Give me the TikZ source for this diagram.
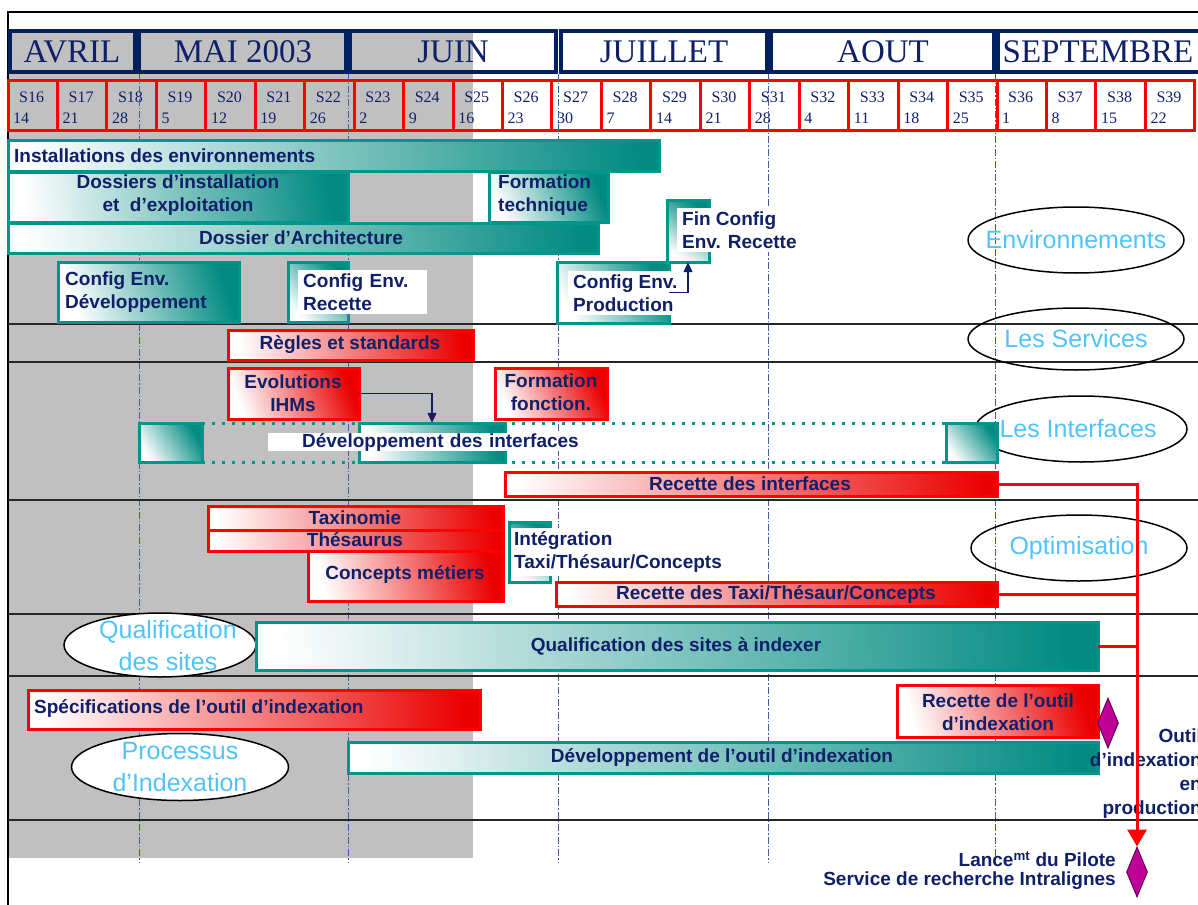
\documentclass[tikz,border=0pt]{standalone}
\usepackage{fontspec}
\setmainfont{Liberation Serif}
\setsansfont{Liberation Sans}
\usetikzlibrary{arrows.meta,shapes.geometric,fit}

\definecolor{navyt}{RGB}{16,32,104}
\definecolor{navyb}{RGB}{0,32,96}
\definecolor{tealc}{RGB}{0,150,140}
\definecolor{grayc}{RGB}{192,192,192}
\definecolor{skyt}{RGB}{80,195,250}
\definecolor{guidec}{RGB}{70,90,160}
\definecolor{magf}{RGB}{190,0,150}
\definecolor{magb}{RGB}{100,0,90}

% bar of the planning: name, colour, x1, y1, x2, y2
\newcommand\gbar[6]{%
  \pgfmathsetmacro\gang{-atan((#5-#3)/(#6-#4))}%
  \path[draw=#2, line width=3pt, top color=#2!92!black, bottom color=white, shading angle=\gang] (#3,#4) rectangle (#5,#6);
  \node[fit={(#3,#4) (#5,#6)}, inner sep=0pt] (#1) {};}

\begin{document}
\begin{tikzpicture}[x=1pt, y=-1pt,
  lbl/.style={font=\sffamily\bfseries\fontsize{19}{23.5}\selectfont, text=navyt, inner sep=0pt, align=center},
  wlbl/.style={lbl, fill=white, inner xsep=5pt, inner ysep=3pt, align=left},
  theme/.style={ellipse, draw=black, line width=1.5pt, inner sep=0pt},
  themetxt/.style={text=skyt, align=center, inner sep=0pt, font=\sffamily\fontsize{25}{32}\selectfont},
  mfont/.style={font=\rmfamily\fontsize{33}{33}\selectfont, text=navyt},
  wfont/.style={font=\rmfamily\fontsize{16}{16}\selectfont, text=navyt, inner sep=0pt},
  month/.style={draw=navyb, line width=4pt},
  week/.style={draw=red, line width=3pt},
  guide/.style={draw=guidec, line width=0.8pt, dash pattern=on 7pt off 2pt on 1.5pt off 2pt},
  sep/.style={line width=2pt, black!85},
  jalon/.style={diamond, draw=magb, fill=magf, line width=1pt, minimum width=21pt, minimum height=50pt, inner sep=0pt}]
\useasboundingbox (0,0) rectangle (1198,904);
\fill[grayc] (8,30) rectangle (473,858);
\draw[line width=1.2pt] (1215,12) -- (8,12) -- (8,910);

% months and weeks
\foreach \xa/\xb/\xm/\m [count=\i] in {10/135/72/AVRIL, 139/346/243/MAI 2003, 350/556/453/JUIN, 561/767/664/JUILLET, 771/994/883/AOUT, 998/1215/1098/SEPTEMBRE}{
  \draw[month] (\xa,31) rectangle (\xb,72);
  \node[mfont] (month\i) at (\xm,52) {\m};
}
\foreach \s/\d [count=\i from 0] in {16/14,17/21,18/28,19/5,20/12,21/19,22/26,23/2,24/9,25/16,26/23,27/30,28/7,29/14,30/21,31/28,32/4,33/11,34/18,35/25,36/1,37/8,38/15,39/22}{
  \pgfmathsetmacro\xl{8+49.45*\i}
  \draw[week] (\xl,81) rectangle ++(49.45,50);
  \node[wfont, anchor=west] (s\s) at (\xl+11,97) {S\s};
  \node[wfont, anchor=west] (d\s) at (\xl+5,118) {\d};
}
\foreach \x in {139,348,558,768,995} \draw[guide] (\x,74) -- (\x,862);
\foreach \y in {324,362,500,614,676,820} \draw[sep] (8,\y) -- (1198,\y);

% themes
\node[theme, minimum width=216pt, minimum height=66pt] (env) at (1076,240) {};
\node[theme, minimum width=216pt, minimum height=62pt] (serv) at (1076,339) {};
\node[theme, minimum width=212pt, minimum height=66pt] (inter) at (1081,429) {};
\node[theme, minimum width=216pt, minimum height=66pt] (optim) at (1079,548) {};
\node[theme, fill=white, minimum width=192pt, minimum height=64pt] (qsites) at (160,645) {};
\node[theme, fill=white, minimum width=217pt, minimum height=67pt] (proc) at (180,767) {};

% Environnements
\gbar{inst}{tealc}{8}{141}{659}{172}
\gbar{dossinst}{tealc}{8}{173}{348}{222}
\gbar{formtech}{tealc}{489}{173}{608}{222}
\gbar{dossarch}{tealc}{8}{223}{598}{253}
\gbar{cfgdev}{tealc}{58}{262}{239}{322}
\gbar{cfgrec}{tealc}{288}{262}{348}{322}
\gbar{cfgprod}{tealc}{557}{262}{669}{323}
\gbar{fincfg}{tealc}{667}{200}{709}{262}
% Services / Interfaces
\gbar{regles}{red}{228}{330}{473}{360}
\gbar{evol}{red}{228}{368}{359}{419}
\gbar{formfonc}{red}{495}{368}{607}{419}
\draw[tealc, line width=3pt, dash pattern=on 3pt off 7pt] (202,423) -- (946,423) (202,462) -- (946,462);
\gbar{devl}{tealc}{139}{423}{202}{462}
\gbar{devm}{tealc}{359}{423}{505}{462}
\gbar{devr}{tealc}{946}{423}{997}{462}
\gbar{recint}{red}{505}{472}{997}{496}
% Optimisation
\gbar{taxi}{red}{208}{506}{503}{530}
\gbar{thes}{red}{208}{530}{503}{551}
\gbar{conc}{red}{308}{551}{503}{601}
\gbar{integ}{tealc}{509}{522}{550}{582}
\gbar{rectaxi}{red}{556}{582}{997}{606}
% Qualification / Indexation
\gbar{qualif}{tealc}{256}{622}{1098}{670}
\gbar{specs}{red}{28}{690}{480}{729}
\gbar{devout}{tealc}{348}{742}{1098}{773}
\gbar{recout}{red}{897}{685}{1098}{737}

% theme labels
\node[themetxt] (tenv) at (env) {Environnements};
\node[themetxt] (tserv) at (serv) {Les Services};
\node[themetxt] (tinter) at (1078,429) {Les Interfaces};
\node[themetxt] (toptim) at (optim) {Optimisation};
\node[themetxt] (tqsites) at (168,646) {Qualification\\des sites};
\node[themetxt] (tproc) at (proc) {Processus\\d’Indexation};

% labels
\node[lbl, anchor=west] (tinst) at (14,156) {Installations des environnements};
\node[lbl] (tdossinst) at (178,195) {Dossiers d’installation\\et \ d’exploitation};
\node[lbl, anchor=west, align=left] (tformtech) at (498,195) {Formation\\technique};
\node[lbl] (tdossarch) at (301,238) {Dossier d’Architecture};
\node[lbl, anchor=west, align=left] (tcfgdev) at (65,292) {Config Env.\\Développement};
\node[wlbl, anchor=west, text width=119pt] (tcfgrec) at (298,292) {Config Env.\\Recette};
\node[wlbl, anchor=west] (tcfgprod) at (568,293) {Config Env.\\Production};
\node[wlbl, anchor=west] (tfincfg) at (677,230) {Fin Config\\Env. Recette};
\node[lbl] (tregles) at (350,345) {Règles et standards};
\node[lbl] (tevol) at (293,393) {Evolutions\\IHMs};
\node[lbl] (tformfonc) at (551,392) {Formation\\fonction.};
\node[wlbl, anchor=east, inner ysep=0pt, text width=306pt, align=right] (tdevint) at (584,442) {Développement des interfaces};
\node[lbl] (trecint) at (750,484) {Recette des interfaces};
\node[lbl] (ttaxi) at (355,518) {Taxinomie};
\node[lbl] (tthes) at (355,540) {Thésaurus};
\node[lbl] (tconc) at (405,574) {Concepts métiers};
\node[wlbl, anchor=west, inner xsep=3pt] (tinteg) at (511,552) {Intégration\\Taxi/Thésaur/Concepts};
\node[lbl] (trectaxi) at (776,594) {Recette des Taxi/Thésaur/Concepts};
\node[lbl] (tqualif) at (676,646) {Qualification des sites à indexer};
\node[lbl, anchor=west] (tspecs) at (34,708) {Spécifications de l’outil d’indexation};
\node[lbl] (tdevout) at (722,757) {Développement de l’outil d’indexation};
\node[lbl] (trecout) at (998,712) {Recette de l’outil\\d’indexation};

% jalons
\node[jalon] (livr) at (1108,723) {};
\node[jalon] (pilote) at (1137,872) {};
\node[lbl, anchor=north east, align=right, font=\sffamily\bfseries\fontsize{19}{24}\selectfont] (tlivr) at (1202,729) {Outil\\d’indexation\\en\\production};
\node[lbl, anchor=east, align=right, font=\sffamily\bfseries\fontsize{19}{19}\selectfont] (tpilote) at (1116,871) {Lance\textsuperscript{mt} du Pilote\\Service de recherche Intralignes};

% liens
\draw[navyt, line width=1.2pt, -{Triangle[length=10pt,width=9pt]}] (cfgprod.east) -| (fincfg.south);
\draw[navyt, line width=1.2pt, -{Triangle[length=10pt,width=9pt]}] (evol.east) -| (devm.north);
\draw[red, line width=3pt, -{Triangle[length=17pt,width=19pt]}] (recint.east) -| (pilote.north);
\draw[red, line width=3pt] (rectaxi.east) -- (rectaxi.east -| pilote.north);
\draw[red, line width=3pt] (qualif.east) -- (qualif.east -| pilote.north);
\end{tikzpicture}
\end{document}
